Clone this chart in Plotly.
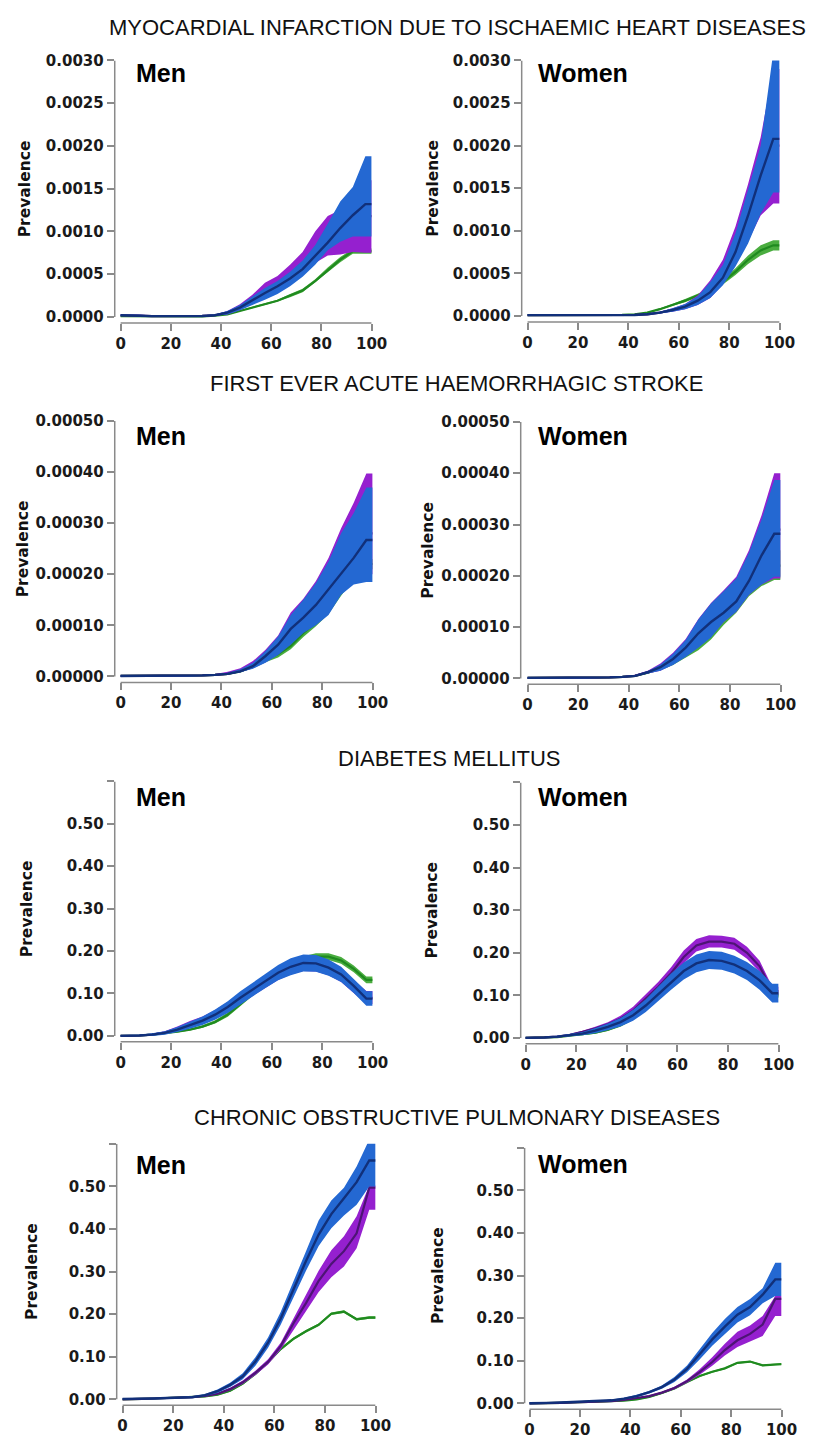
import plotly.graph_objects as go

W, H = 825, 1439

AGES = [2.5, 7.5, 12.5, 17.5, 22.5, 27.5, 32.5, 37.5, 42.5, 47.5,
        52.5, 57.5, 62.5, 67.5, 72.5, 77.5, 82.5, 87.5, 92.5, 97.5]

# ---------------- Myocardial infarction, men ----------------
MI_M_BLUE_MID = [0.00002, 0.000015, 0.00001, 0.00001, 0.00001, 0.00001, 0.000012, 0.00002, 0.00005, 0.00011, 0.0002, 0.00028, 0.00036, 0.00045, 0.00056, 0.00071, 0.00087, 0.00104, 0.00119, 0.00132]
MI_M_BLUE_LO = [0.00001, 0.00001, 0.000005, 0.000005, 0.000005, 0.000005, 0.000007, 0.000013, 0.00003, 0.00008, 0.00014, 0.0002, 0.00027, 0.00036, 0.00047, 0.00061, 0.00078, 0.00088, 0.00094, 0.00094]
MI_M_BLUE_HI = [0.00003, 0.000025, 0.00002, 0.00002, 0.00002, 0.00002, 0.00002, 0.00003, 0.00007, 0.00014, 0.00024, 0.00034, 0.00042, 0.00053, 0.00066, 0.00084, 0.00109, 0.00135, 0.00152, 0.00188]
MI_M_PURPLE_MID = [0.00002, 0.000015, 0.00001, 0.00001, 0.00001, 0.00001, 0.000012, 0.00002, 0.00005, 0.00011, 0.0002, 0.00029, 0.00037, 0.00047, 0.0006, 0.00076, 0.00092, 0.001, 0.0011, 0.00118]
MI_M_PURPLE_LO = [0.00001, 0.00001, 0.000005, 0.000005, 0.000005, 0.000005, 0.000007, 0.000013, 0.00003, 0.00008, 0.00015, 0.00022, 0.00029, 0.00037, 0.00049, 0.00063, 0.00072, 0.00073, 0.00076, 0.00075]
MI_M_PURPLE_HI = [0.00003, 0.000025, 0.00002, 0.00002, 0.00002, 0.00002, 0.00002, 0.00003, 0.00007, 0.00015, 0.00026, 0.0004, 0.00048, 0.00061, 0.00076, 0.001, 0.00118, 0.00125, 0.0014, 0.0016]
MI_M_GREEN_MID = [0.00001, 0.00001, 0.000005, 0.000005, 0.000005, 0.000005, 0.000008, 0.000015, 0.00003, 0.00007, 0.00011, 0.00015, 0.00019, 0.00025, 0.00031, 0.00042, 0.00055, 0.00067, 0.00077, 0.00077]
MI_M_GREEN_LO = [0.000005, 0.000005, 0.000003, 0.000003, 0.000003, 0.000003, 0.000005, 0.00001, 0.000025, 0.00006, 0.0001, 0.00014, 0.00018, 0.00023, 0.00029, 0.0004, 0.00052, 0.00064, 0.00074, 0.00074]
MI_M_GREEN_HI = [0.000015, 0.000015, 0.000008, 0.000008, 0.000008, 0.000008, 0.000011, 0.00002, 0.000035, 0.00008, 0.00012, 0.00016, 0.0002, 0.00027, 0.00033, 0.00044, 0.00058, 0.0007, 0.0008, 0.0008]

# ---------------- Myocardial infarction, women ----------------
MI_W_BLUE_MID = [0.00001, 0.00001, 0.000005, 0.000005, 0.000005, 0.000005, 0.000006, 0.000008, 0.000012, 0.00002, 0.00004, 0.00007, 0.00011, 0.00018, 0.00028, 0.00045, 0.00075, 0.00118, 0.00165, 0.00208]
MI_W_BLUE_LO = [0.000005, 0.000005, 0.000003, 0.000003, 0.000003, 0.000003, 0.000004, 0.000005, 0.000008, 0.000014, 0.00003, 0.00005, 0.00008, 0.00013, 0.00021, 0.00036, 0.00058, 0.00085, 0.0012, 0.00145]
MI_W_BLUE_HI = [0.000015, 0.000015, 0.000008, 0.000008, 0.000008, 0.000008, 0.000009, 0.000012, 0.000017, 0.000028, 0.00005, 0.00009, 0.00014, 0.00023, 0.0004, 0.0006, 0.00097, 0.00148, 0.002, 0.0031]
MI_W_PURPLE_MID = [0.00001, 0.00001, 0.000005, 0.000005, 0.000005, 0.000005, 0.000006, 0.000008, 0.000012, 0.00002, 0.00004, 0.00007, 0.00011, 0.00018, 0.00029, 0.00047, 0.00078, 0.00122, 0.0017, 0.002]
MI_W_PURPLE_LO = [0.000005, 0.000005, 0.000003, 0.000003, 0.000003, 0.000003, 0.000004, 0.000005, 0.000008, 0.000014, 0.00003, 0.00005, 0.00008, 0.00013, 0.00021, 0.00037, 0.0006, 0.00088, 0.00118, 0.00132]
MI_W_PURPLE_HI = [0.000015, 0.000015, 0.000008, 0.000008, 0.000008, 0.000008, 0.000009, 0.000012, 0.000017, 0.000028, 0.00005, 0.00009, 0.00014, 0.00024, 0.00042, 0.00066, 0.00105, 0.00155, 0.0021, 0.0029]
MI_W_GREEN_MID = [0.00001, 0.00001, 0.000005, 0.000005, 0.000005, 0.000006, 0.000008, 0.000012, 0.00002, 0.00004, 0.00008, 0.00013, 0.00018, 0.00024, 0.00031, 0.0004, 0.00052, 0.00066, 0.00077, 0.00083]
MI_W_GREEN_LO = [0.000005, 0.000005, 0.000003, 0.000003, 0.000003, 0.000004, 0.000006, 0.00001, 0.000017, 0.000035, 0.00007, 0.00012, 0.00016, 0.00022, 0.00029, 0.00037, 0.00048, 0.00061, 0.00071, 0.00077]
MI_W_GREEN_HI = [0.000015, 0.000015, 0.000008, 0.000008, 0.000008, 0.000008, 0.00001, 0.000014, 0.000023, 0.000045, 0.00009, 0.00014, 0.0002, 0.00026, 0.00033, 0.00043, 0.00056, 0.00071, 0.00083, 0.00089]

# ---------------- Haemorrhagic stroke, men ----------------
HS_M_BLUE_MID = [0.000001, 0.000001, 0.000001, 0.000001, 0.000001, 0.000001, 0.000002, 0.000003, 0.000005, 0.00001, 0.00002, 0.00004, 0.000062, 0.000093, 0.000115, 0.00014, 0.00017, 0.0002, 0.000232, 0.000267]
HS_M_BLUE_LO = [0.0, 0.0, 0.0, 0.0, 0.0, 0.0, 0.000001, 0.000002, 0.000004, 0.000008, 0.000015, 0.000027, 0.000042, 0.000062, 0.000085, 0.0001, 0.00012, 0.00016, 0.00018, 0.000185]
HS_M_BLUE_HI = [0.000002, 0.000002, 0.000002, 0.000002, 0.000002, 0.000002, 0.000003, 0.000004, 0.000007, 0.000014, 0.000027, 0.00005, 0.000078, 0.00012, 0.00015, 0.000183, 0.000225, 0.00028, 0.00032, 0.00037]
HS_M_PURPLE_MID = [0.000001, 0.000001, 0.000001, 0.000001, 0.000001, 0.000001, 0.000002, 0.000003, 0.000005, 0.000011, 0.000021, 0.000041, 0.000063, 0.000095, 0.000117, 0.000143, 0.000175, 0.000205, 0.00024, 0.00028]
HS_M_PURPLE_LO = [0.0, 0.0, 0.0, 0.0, 0.0, 0.0, 0.000001, 0.000002, 0.000004, 0.000008, 0.000016, 0.000028, 0.000044, 0.000065, 0.000088, 0.000105, 0.000125, 0.000165, 0.000185, 0.0002]
HS_M_PURPLE_HI = [0.000002, 0.000002, 0.000002, 0.000002, 0.000002, 0.000002, 0.000003, 0.000005, 0.000009, 0.000016, 0.00003, 0.000052, 0.00008, 0.000125, 0.000152, 0.000187, 0.000232, 0.00029, 0.00034, 0.000397]
HS_M_GREEN_MID = [0.000001, 0.000001, 0.000001, 0.000001, 0.000001, 0.000001, 0.000002, 0.000003, 0.000005, 0.00001, 0.000019, 0.000032, 0.000044, 0.00006, 0.000085, 0.000105, 0.00013, 0.000165, 0.0002, 0.00022]
HS_M_GREEN_LO = [0.0, 0.0, 0.0, 0.0, 0.0, 0.0, 0.000001, 0.000002, 0.000004, 0.000008, 0.000016, 0.000028, 0.000037, 0.000053, 0.000077, 0.000098, 0.000122, 0.000158, 0.00019, 0.00021]
HS_M_GREEN_HI = [0.000002, 0.000002, 0.000002, 0.000002, 0.000002, 0.000002, 0.000003, 0.000004, 0.000006, 0.000012, 0.000022, 0.000036, 0.00005, 0.000067, 0.000092, 0.000112, 0.000138, 0.000172, 0.00021, 0.00023]

# ---------------- Haemorrhagic stroke, women ----------------
HS_W_BLUE_MID = [0.000001, 0.000001, 0.000001, 0.000001, 0.000001, 0.000001, 0.000002, 0.000003, 0.000005, 0.000012, 0.000022, 0.000038, 0.00006, 0.000088, 0.00011, 0.000128, 0.00015, 0.00019, 0.00024, 0.000282]
HS_W_BLUE_LO = [0.0, 0.0, 0.0, 0.0, 0.0, 0.0, 0.000001, 0.000002, 0.000004, 0.000009, 0.000015, 0.000026, 0.000042, 0.00006, 0.00008, 0.00011, 0.00013, 0.000163, 0.000183, 0.000198]
HS_W_BLUE_HI = [0.000002, 0.000002, 0.000002, 0.000002, 0.000002, 0.000002, 0.000003, 0.000004, 0.000006, 0.000014, 0.000027, 0.000048, 0.000075, 0.000115, 0.000146, 0.00017, 0.000195, 0.000245, 0.00031, 0.000387]
HS_W_PURPLE_MID = [0.000001, 0.000001, 0.000001, 0.000001, 0.000001, 0.000001, 0.000002, 0.000003, 0.000005, 0.000012, 0.000022, 0.000039, 0.000061, 0.000089, 0.000111, 0.00013, 0.000153, 0.000195, 0.000245, 0.00029]
HS_W_PURPLE_LO = [0.0, 0.0, 0.0, 0.0, 0.0, 0.0, 0.000001, 0.000002, 0.000004, 0.000009, 0.000015, 0.000027, 0.000043, 0.000061, 0.000081, 0.00011, 0.00013, 0.000163, 0.000183, 0.000195]
HS_W_PURPLE_HI = [0.000002, 0.000002, 0.000002, 0.000002, 0.000002, 0.000002, 0.000003, 0.000004, 0.000007, 0.000015, 0.000029, 0.00005, 0.000077, 0.000116, 0.000147, 0.000172, 0.000198, 0.00025, 0.000318, 0.0004]
HS_W_GREEN_MID = [0.000001, 0.000001, 0.000001, 0.000001, 0.000001, 0.000001, 0.000002, 0.000003, 0.000005, 0.000011, 0.00002, 0.000033, 0.000052, 0.000072, 0.000098, 0.000122, 0.000146, 0.00018, 0.000205, 0.00022]
HS_W_GREEN_LO = [0.0, 0.0, 0.0, 0.0, 0.0, 0.0, 0.000001, 0.000002, 0.000004, 0.000009, 0.000016, 0.000026, 0.00004, 0.000055, 0.000076, 0.000104, 0.000128, 0.00016, 0.00018, 0.000192]
HS_W_GREEN_HI = [0.000002, 0.000002, 0.000002, 0.000002, 0.000002, 0.000002, 0.000003, 0.000004, 0.000006, 0.000013, 0.000024, 0.00004, 0.000064, 0.00009, 0.00012, 0.00014, 0.000165, 0.0002, 0.00023, 0.00025]

# ---------------- Diabetes mellitus, men ----------------
DM_M_BLUE_MID = [0.0, 0.001, 0.003, 0.007, 0.015, 0.025, 0.036, 0.05, 0.068, 0.09, 0.11, 0.13, 0.149, 0.163, 0.172, 0.171, 0.161, 0.145, 0.118, 0.088]
DM_M_BLUE_LO = [0.0, 0.0, 0.0, 0.003, 0.009, 0.017, 0.026, 0.038, 0.054, 0.075, 0.094, 0.113, 0.131, 0.143, 0.152, 0.151, 0.142, 0.127, 0.101, 0.071]
DM_M_BLUE_HI = [0.002, 0.003, 0.006, 0.011, 0.021, 0.033, 0.046, 0.062, 0.082, 0.105, 0.126, 0.147, 0.167, 0.183, 0.192, 0.191, 0.18, 0.163, 0.135, 0.105]
DM_M_PURPLE_MID = [0.0, 0.001, 0.003, 0.008, 0.017, 0.028, 0.038, 0.051, 0.068, 0.089, 0.109, 0.129, 0.148, 0.162, 0.17, 0.169, 0.16, 0.143, 0.117, 0.09]
DM_M_PURPLE_LO = [0.0, 0.0, 0.001, 0.005, 0.012, 0.021, 0.03, 0.041, 0.056, 0.076, 0.095, 0.114, 0.132, 0.145, 0.153, 0.152, 0.143, 0.127, 0.102, 0.075]
DM_M_PURPLE_HI = [0.001, 0.002, 0.005, 0.011, 0.022, 0.035, 0.046, 0.061, 0.08, 0.102, 0.123, 0.144, 0.164, 0.179, 0.187, 0.186, 0.177, 0.159, 0.132, 0.106]
DM_M_GREEN_MID = [0.0, 0.001, 0.003, 0.006, 0.01, 0.015, 0.022, 0.033, 0.05, 0.075, 0.102, 0.127, 0.148, 0.166, 0.18, 0.187, 0.187, 0.178, 0.158, 0.132]
DM_M_GREEN_LO = [0.0, 0.0, 0.002, 0.005, 0.008, 0.013, 0.019, 0.029, 0.045, 0.069, 0.095, 0.12, 0.141, 0.158, 0.172, 0.179, 0.179, 0.17, 0.15, 0.124]
DM_M_GREEN_HI = [0.001, 0.002, 0.004, 0.007, 0.012, 0.017, 0.025, 0.037, 0.055, 0.081, 0.109, 0.134, 0.155, 0.174, 0.188, 0.195, 0.195, 0.186, 0.166, 0.14]

# ---------------- Diabetes mellitus, women ----------------
DM_W_BLUE_MID = [0.0, 0.001, 0.003, 0.006, 0.01, 0.017, 0.026, 0.037, 0.053, 0.076, 0.103, 0.132, 0.157, 0.175, 0.183, 0.181, 0.172, 0.157, 0.135, 0.105]
DM_W_BLUE_LO = [0.0, 0.0, 0.001, 0.003, 0.006, 0.011, 0.018, 0.027, 0.04, 0.061, 0.086, 0.113, 0.137, 0.154, 0.162, 0.16, 0.151, 0.136, 0.113, 0.083]
DM_W_BLUE_HI = [0.001, 0.002, 0.005, 0.009, 0.014, 0.023, 0.034, 0.047, 0.066, 0.091, 0.12, 0.151, 0.177, 0.196, 0.204, 0.202, 0.193, 0.178, 0.157, 0.127]
DM_W_PURPLE_MID = [0.0, 0.001, 0.003, 0.007, 0.014, 0.022, 0.032, 0.045, 0.064, 0.092, 0.12, 0.152, 0.19, 0.217, 0.226, 0.226, 0.221, 0.2, 0.168, 0.11]
DM_W_PURPLE_LO = [0.0, 0.0, 0.002, 0.005, 0.011, 0.018, 0.027, 0.038, 0.055, 0.081, 0.108, 0.138, 0.175, 0.203, 0.212, 0.212, 0.207, 0.186, 0.155, 0.1]
DM_W_PURPLE_HI = [0.001, 0.002, 0.004, 0.009, 0.017, 0.026, 0.037, 0.052, 0.073, 0.103, 0.132, 0.166, 0.205, 0.232, 0.241, 0.24, 0.235, 0.214, 0.181, 0.12]
DM_W_GREEN_MID = [0.0, 0.001, 0.002, 0.005, 0.008, 0.012, 0.019, 0.03, 0.047, 0.071, 0.099, 0.128, 0.153, 0.17, 0.178, 0.176, 0.167, 0.152, 0.13, 0.1]
DM_W_GREEN_LO = [0.0, 0.0, 0.001, 0.004, 0.006, 0.01, 0.016, 0.026, 0.042, 0.066, 0.094, 0.122, 0.147, 0.164, 0.172, 0.17, 0.161, 0.146, 0.124, 0.094]
DM_W_GREEN_HI = [0.001, 0.002, 0.003, 0.006, 0.01, 0.014, 0.022, 0.034, 0.052, 0.076, 0.104, 0.134, 0.159, 0.176, 0.184, 0.182, 0.173, 0.158, 0.136, 0.106]

# ---------------- COPD, men ----------------
CO_M_BLUE_MID = [0.001, 0.002, 0.002, 0.003, 0.004, 0.005, 0.01, 0.019, 0.034, 0.054, 0.089, 0.133, 0.19, 0.257, 0.325, 0.387, 0.435, 0.472, 0.51, 0.561]
CO_M_BLUE_LO = [0.0, 0.001, 0.001, 0.002, 0.003, 0.004, 0.008, 0.015, 0.029, 0.047, 0.079, 0.121, 0.175, 0.239, 0.302, 0.36, 0.402, 0.432, 0.457, 0.5]
CO_M_BLUE_HI = [0.002, 0.003, 0.003, 0.004, 0.005, 0.007, 0.012, 0.023, 0.039, 0.061, 0.099, 0.145, 0.205, 0.275, 0.348, 0.42, 0.467, 0.497, 0.547, 0.61]
CO_M_PURPLE_MID = [0.0, 0.001, 0.002, 0.003, 0.004, 0.005, 0.008, 0.013, 0.024, 0.04, 0.062, 0.088, 0.125, 0.178, 0.226, 0.278, 0.318, 0.348, 0.39, 0.497]
CO_M_PURPLE_LO = [0.0, 0.0, 0.001, 0.002, 0.003, 0.004, 0.006, 0.011, 0.021, 0.036, 0.057, 0.082, 0.117, 0.165, 0.207, 0.252, 0.287, 0.312, 0.355, 0.445]
CO_M_PURPLE_HI = [0.001, 0.002, 0.003, 0.004, 0.005, 0.006, 0.01, 0.015, 0.027, 0.044, 0.067, 0.094, 0.133, 0.19, 0.245, 0.302, 0.35, 0.383, 0.43, 0.502]
CO_M_GREEN_MID = [0.0, 0.001, 0.002, 0.003, 0.004, 0.005, 0.007, 0.011, 0.02, 0.037, 0.06, 0.087, 0.118, 0.142, 0.16, 0.175, 0.201, 0.206, 0.188, 0.192]
CO_M_GREEN_LO = [0.0, 0.0, 0.001, 0.002, 0.003, 0.004, 0.005, 0.009, 0.018, 0.034, 0.057, 0.084, 0.115, 0.139, 0.157, 0.172, 0.198, 0.203, 0.185, 0.189]
CO_M_GREEN_HI = [0.001, 0.002, 0.003, 0.004, 0.005, 0.006, 0.009, 0.013, 0.022, 0.04, 0.063, 0.09, 0.121, 0.145, 0.163, 0.178, 0.204, 0.209, 0.191, 0.195]

# ---------------- COPD, women ----------------
CO_W_BLUE_MID = [0.0, 0.001, 0.002, 0.003, 0.004, 0.005, 0.007, 0.011, 0.017, 0.026, 0.038, 0.056, 0.081, 0.115, 0.15, 0.18, 0.208, 0.226, 0.255, 0.291]
CO_W_BLUE_LO = [0.0, 0.0, 0.001, 0.002, 0.003, 0.004, 0.005, 0.009, 0.014, 0.023, 0.034, 0.05, 0.073, 0.103, 0.135, 0.163, 0.19, 0.207, 0.235, 0.252]
CO_W_BLUE_HI = [0.001, 0.002, 0.003, 0.004, 0.005, 0.006, 0.009, 0.013, 0.02, 0.029, 0.042, 0.062, 0.089, 0.127, 0.165, 0.198, 0.226, 0.245, 0.27, 0.33]
CO_W_PURPLE_MID = [0.0, 0.001, 0.001, 0.002, 0.003, 0.004, 0.005, 0.008, 0.012, 0.017, 0.025, 0.036, 0.052, 0.073, 0.097, 0.125, 0.148, 0.163, 0.185, 0.245]
CO_W_PURPLE_LO = [0.0, 0.0, 0.0, 0.001, 0.002, 0.003, 0.004, 0.007, 0.011, 0.015, 0.023, 0.033, 0.048, 0.067, 0.088, 0.112, 0.132, 0.145, 0.158, 0.205]
CO_W_PURPLE_HI = [0.001, 0.002, 0.002, 0.003, 0.004, 0.005, 0.006, 0.009, 0.013, 0.019, 0.027, 0.039, 0.056, 0.08, 0.108, 0.14, 0.168, 0.183, 0.205, 0.252]
CO_W_GREEN_MID = [0.0, 0.001, 0.001, 0.002, 0.003, 0.003, 0.004, 0.006, 0.009, 0.015, 0.024, 0.035, 0.05, 0.064, 0.074, 0.082, 0.095, 0.098, 0.089, 0.092]
CO_W_GREEN_LO = [0.0, 0.0, 0.0, 0.001, 0.002, 0.002, 0.003, 0.005, 0.008, 0.013, 0.022, 0.033, 0.048, 0.062, 0.072, 0.08, 0.093, 0.096, 0.087, 0.09]
CO_W_GREEN_HI = [0.001, 0.002, 0.002, 0.003, 0.004, 0.004, 0.005, 0.007, 0.01, 0.017, 0.026, 0.037, 0.052, 0.066, 0.076, 0.084, 0.097, 0.1, 0.091, 0.094]

TITLES = ["MYOCARDIAL INFARCTION DUE TO ISCHAEMIC HEART DISEASES",
          "FIRST EVER ACUTE HAEMORRHAGIC STROKE",
          "DIABETES MELLITUS",
          "CHRONIC OBSTRUCTIVE PULMONARY DISEASES"]
SEX_LABELS = ["Men", "Women"]
X_TICKS = [0, 20, 40, 60, 80, 100]
Y_TICKS_MI = [0.0, 0.0005, 0.0010, 0.0015, 0.0020, 0.0025, 0.0030]
Y_TICKS_HS = [0.0, 0.0001, 0.0002, 0.0003, 0.0004, 0.0005]
Y_TICKS_PCT = [0.0, 0.1, 0.2, 0.3, 0.4, 0.5, 0.6]

BLUE_FILL, BLUE_LINE = "#2468d2", "#11307a"
PURPLE_FILL, PURPLE_LINE = "#9520cf", "#4d1475"
GREEN_FILL, GREEN_LINE = "#4aad3f", "#1f8a1f"
AXIS_COLOR = "#8a8a8a"
TICK_FONT = dict(family="DejaVu Sans", size=15, color="#1a1a1a", weight="bold")

DATA = {
    "MI_M": (MI_M_GREEN_LO, MI_M_GREEN_MID, MI_M_GREEN_HI, MI_M_PURPLE_LO, MI_M_PURPLE_MID, MI_M_PURPLE_HI, MI_M_BLUE_LO, MI_M_BLUE_MID, MI_M_BLUE_HI),
    "MI_W": (MI_W_GREEN_LO, MI_W_GREEN_MID, MI_W_GREEN_HI, MI_W_PURPLE_LO, MI_W_PURPLE_MID, MI_W_PURPLE_HI, MI_W_BLUE_LO, MI_W_BLUE_MID, MI_W_BLUE_HI),
    "HS_M": (HS_M_GREEN_LO, HS_M_GREEN_MID, HS_M_GREEN_HI, HS_M_PURPLE_LO, HS_M_PURPLE_MID, HS_M_PURPLE_HI, HS_M_BLUE_LO, HS_M_BLUE_MID, HS_M_BLUE_HI),
    "HS_W": (HS_W_GREEN_LO, HS_W_GREEN_MID, HS_W_GREEN_HI, HS_W_PURPLE_LO, HS_W_PURPLE_MID, HS_W_PURPLE_HI, HS_W_BLUE_LO, HS_W_BLUE_MID, HS_W_BLUE_HI),
    "DM_M": (DM_M_GREEN_LO, DM_M_GREEN_MID, DM_M_GREEN_HI, DM_M_PURPLE_LO, DM_M_PURPLE_MID, DM_M_PURPLE_HI, DM_M_BLUE_LO, DM_M_BLUE_MID, DM_M_BLUE_HI),
    "DM_W": (DM_W_GREEN_LO, DM_W_GREEN_MID, DM_W_GREEN_HI, DM_W_PURPLE_LO, DM_W_PURPLE_MID, DM_W_PURPLE_HI, DM_W_BLUE_LO, DM_W_BLUE_MID, DM_W_BLUE_HI),
    "CO_M": (CO_M_GREEN_LO, CO_M_GREEN_MID, CO_M_GREEN_HI, CO_M_PURPLE_LO, CO_M_PURPLE_MID, CO_M_PURPLE_HI, CO_M_BLUE_LO, CO_M_BLUE_MID, CO_M_BLUE_HI),
    "CO_W": (CO_W_GREEN_LO, CO_W_GREEN_MID, CO_W_GREEN_HI, CO_W_PURPLE_LO, CO_W_PURPLE_MID, CO_W_PURPLE_HI, CO_W_BLUE_LO, CO_W_BLUE_MID, CO_W_BLUE_HI),
}

# layout geometry in pixels: key, row, col, y-axis x, age0 x, age100 x, top value, top y, zero y, x-axis y, yticks, fmt
PANELS = [
    ("MI_M", 0, 0, 117, 123, 379, 0.003, 52, 311, 317, Y_TICKS_MI, "{:.4f}"),
    ("MI_W", 0, 1, 532, 538, 795, 0.003, 52, 310, 316, Y_TICKS_MI, "{:.4f}"),
    ("HS_M", 1, 0, 117, 123, 380, 0.0005, 416, 674, 680, Y_TICKS_HS, "{:.5f}"),
    ("HS_W", 1, 1, 531, 538, 796, 0.0005, 417, 676, 682, Y_TICKS_HS, "{:.5f}"),
    ("DM_M", 2, 0, 117, 123, 380, 0.6, 780, 1037, 1043, Y_TICKS_PCT, "{:.2f}"),
    ("DM_W", 2, 1, 531, 536, 794, 0.6, 781, 1039, 1045, Y_TICKS_PCT, "{:.2f}"),
    ("CO_M", 3, 0, 119, 125, 383, 0.6, 1146, 1404, 1410, Y_TICKS_PCT, "{:.2f}"),
    ("CO_W", 3, 1, 535, 540, 797, 0.6, 1150, 1408, 1414, Y_TICKS_PCT, "{:.2f}"),
]
TITLE_POS = [(467, 19), (466, 378), (458, 757), (466, 1119)]
SEX_POS = {(0, 0): (137, 65), (0, 1): (547, 65), (1, 0): (137, 431), (1, 1): (547, 431),
           (2, 0): (137, 796), (2, 1): (547, 796), (3, 0): (137, 1167), (3, 1): (547, 1166)}
PREV_X = {(0, 0): 25, (0, 1): 442, (1, 0): 23, (1, 1): 437, (2, 0): 27, (2, 1): 441, (3, 0): 32, (3, 1): 446}

xs = [0.0] + AGES + [100.0]


def ext(v):
    return [v[0]] + list(v) + [v[-1]]


fig = go.Figure()
shapes, annotations = [], []
layout_axes = {}

for i, (key, row, col, yax, x0p, x100p, top, topp, zerop, xaxp, yt, fmt) in enumerate(PANELS, start=1):
    sfx = "" if i == 1 else str(i)
    xa, ya = f"x{sfx}", f"y{sfx}"
    g_lo, g_mid, g_hi, p_lo, p_mid, p_hi, b_lo, b_mid, b_hi = DATA[key]
    for lo, mid, hi, fc, lc, lw in [(g_lo, g_mid, g_hi, GREEN_FILL, GREEN_LINE, 2.2),
                                    (p_lo, p_mid, p_hi, PURPLE_FILL, PURPLE_LINE, 2.2),
                                    (b_lo, b_mid, b_hi, BLUE_FILL, BLUE_LINE, 2.4)]:
        fig.add_trace(go.Scatter(x=xs + xs[::-1], y=ext(hi) + ext(lo)[::-1], fill="toself",
                                 fillcolor=fc, mode="lines", line=dict(width=0, color=fc),
                                 xaxis=xa, yaxis=ya, showlegend=False, hoverinfo="skip"))
        fig.add_trace(go.Scatter(x=xs, y=ext(mid), mode="lines", line=dict(width=lw, color=lc),
                                 xaxis=xa, yaxis=ya, showlegend=False))

    xmin = -(x0p - yax) / (x100p - x0p) * 100.0
    ymin = -(xaxp - zerop) / (zerop - topp) * top
    layout_axes[f"xaxis{sfx}"] = dict(
        domain=[yax / W, x100p / W], range=[xmin, 100], anchor=ya,
        tickvals=X_TICKS, ticktext=[str(t) for t in X_TICKS], ticks="outside", ticklen=7,
        tickwidth=1.5, tickcolor=AXIS_COLOR, showline=False, showgrid=False, zeroline=False,
        tickfont=TICK_FONT, fixedrange=True)
    yticktext = [fmt.format(t) for t in yt]
    if top == 0.6:
        yticktext[-1] = ""
    layout_axes[f"yaxis{sfx}"] = dict(
        domain=[1 - xaxp / H, 1 - topp / H], range=[ymin, top], anchor=xa,
        tickvals=yt, ticktext=yticktext, ticks="outside", ticklen=7, tickwidth=1.5,
        tickcolor=AXIS_COLOR, showline=False, showgrid=False, zeroline=False,
        tickfont=TICK_FONT, fixedrange=True)

    shapes.append(dict(type="line", xref=xa, yref=f"{ya} domain", x0=0, x1=100, y0=0, y1=0,
                       line=dict(color=AXIS_COLOR, width=1.5)))
    shapes.append(dict(type="line", xref=f"{xa} domain", yref=ya, x0=0, x1=0, y0=0, y1=top,
                       line=dict(color=AXIS_COLOR, width=1.5)))

    sx, sy = SEX_POS[(row, col)]
    annotations.append(dict(text=SEX_LABELS[col], x=sx / W, y=1 - sy / H, xref="paper", yref="paper",
                            xanchor="left", yanchor="middle", showarrow=False,
                            font=dict(family="Liberation Sans", size=25, color="#000", weight="bold")))
    annotations.append(dict(text="Prevalence", x=PREV_X[(row, col)] / W, y=1 - (topp + zerop) / 2 / H,
                            xref="paper", yref="paper", xanchor="center", yanchor="middle",
                            textangle=-90, showarrow=False,
                            font=dict(family="DejaVu Sans", size=15.5, color="#111", weight="bold")))

for t, (tx, ty) in zip(TITLES, TITLE_POS):
    annotations.append(dict(text=t, x=tx / W, y=1 - ty / H, xref="paper", yref="paper",
                            xanchor="center", yanchor="middle", showarrow=False,
                            font=dict(family="Liberation Sans", size=22, color="#111")))

fig.update_layout(width=W, height=H, margin=dict(l=0, r=0, t=0, b=0),
                  paper_bgcolor="white", plot_bgcolor="white",
                  shapes=shapes, annotations=annotations, showlegend=False, **layout_axes)

fig.write_html("out.html")
